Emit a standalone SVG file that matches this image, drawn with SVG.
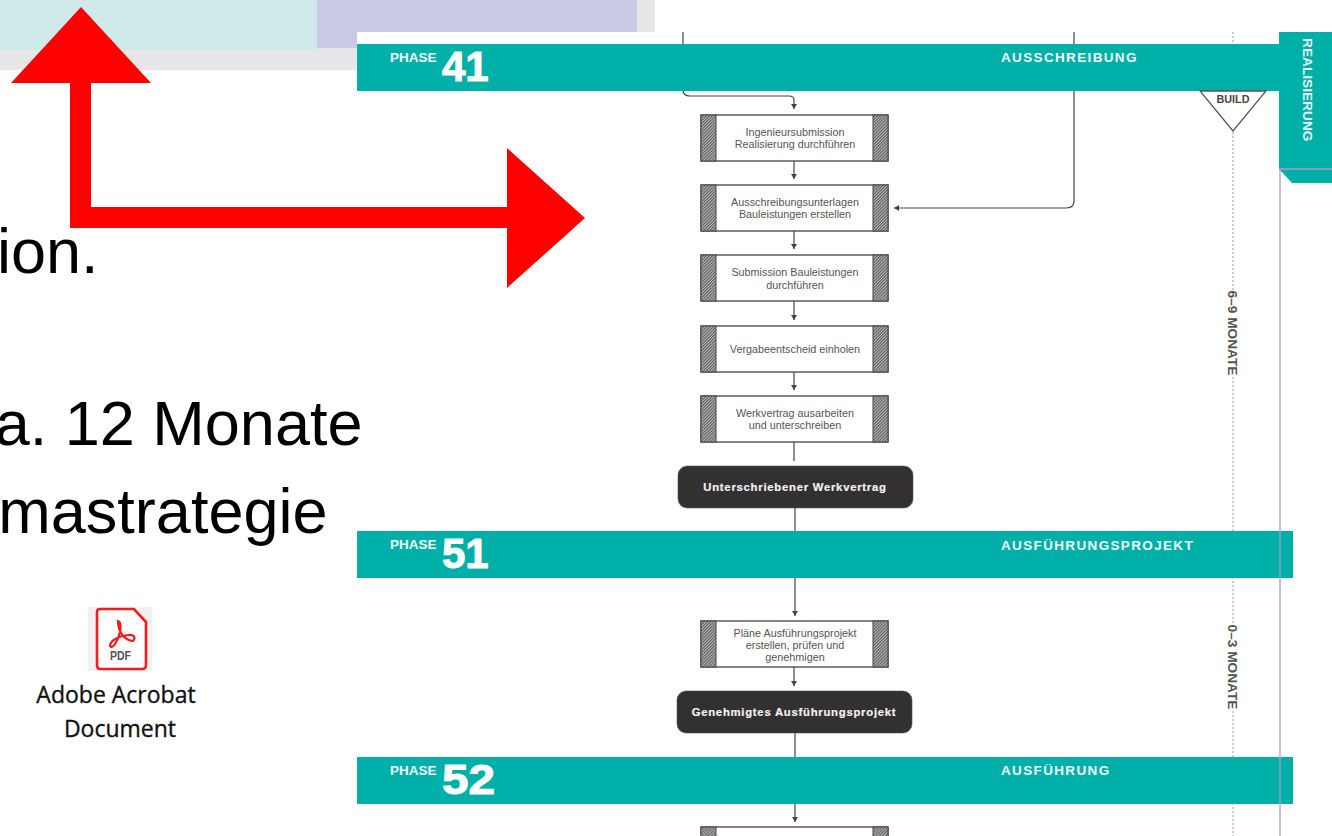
<svg xmlns="http://www.w3.org/2000/svg" width="1332" height="836" viewBox="0 0 1332 836">
<style>
.band{fill:#00b0a8}
.ph{font:700 13.5px "Liberation Sans",Arial,sans-serif;fill:#f2fbfa}
.num{font:700 42px "Liberation Sans",Arial,sans-serif;fill:#fff;stroke:#fff;stroke-width:1}
.title{font:700 13.5px "Liberation Sans",Arial,sans-serif;fill:#f2fbfa;letter-spacing:1.35px}
.big{font:63px "Liberation Sans",Arial,sans-serif;fill:#000}
.box{fill:#fff;stroke:#444;stroke-width:1.3}
.hat{fill:url(#h);stroke:#444;stroke-width:1}
.t{font:10.8px "Liberation Sans",Arial,sans-serif;fill:#555;text-anchor:middle}
.dark{fill:#333031;stroke:#555;stroke-width:.6}
.dt{font:700 11.3px "Liberation Sans",Arial,sans-serif;fill:#f2f2f2;stroke:#f2f2f2;stroke-width:.2;text-anchor:middle;letter-spacing:.75px}
.c{fill:none;stroke:#444;stroke-width:1.2}
.dot{fill:none;stroke:#999;stroke-width:1;stroke-dasharray:2 2}
.side{font:700 13.7px "Liberation Sans",Arial,sans-serif;fill:#555;text-anchor:middle}
.acro{font:23px "Open Sans","Liberation Sans",sans-serif;fill:#111;stroke:#111;stroke-width:.35;text-anchor:middle}
</style>
<defs>
<pattern id="h" width="2.2" height="2.2" patternUnits="userSpaceOnUse" patternTransform="rotate(45)"><rect width="2.2" height="2.2" fill="#bbb"/><rect width="1.1" height="2.2" fill="#5a5a5a"/></pattern>
<marker id="a" markerWidth="6" markerHeight="6" refX="5" refY="3" orient="auto" markerUnits="userSpaceOnUse"><path d="M0 0L5 3L0 6Z" fill="#444"/></marker>
</defs>
<rect width="1332" height="836" fill="#fff"/>
<g id="slide-bg">
<rect x="0" y="0" width="655" height="70" fill="#e7e7ea"/>
<rect x="0" y="0" width="317" height="50" fill="#d0eae9"/>
<rect x="317" y="0" width="320" height="48" fill="#c9cbe6"/>
<rect x="357" y="32" width="975" height="804" fill="#fff"/>
</g>
<g id="slide-text">
<text class="big" x="98.500" y="273" text-anchor="end">ion.</text>
<text class="big" x="362.500" y="445" text-anchor="end">a. 12 Monate</text>
<text class="big" x="327.500" y="533" text-anchor="end">mastrategie</text>
</g>
<g id="pdf-icon">
<rect x="88" y="607" width="64" height="64" fill="#f1f1f1"/>
<path d="M100 609H134L146 622V665Q146 669 142 669H100Q97 669 97 665V612Q97 609 100 609Z" fill="#fff" stroke="#f21c1c" stroke-width="2.6"/>
<path d="M118 621C118 632 124 640 133 641C136 638 134 634 128 635C118 636 110 641 110 646C113 650 118 640 120 632C121 627 121 622 118 621Z" fill="none" stroke="#f21c1c" stroke-width="2.2"/>
<text x="120.500" y="660" textLength="21" lengthAdjust="spacingAndGlyphs" text-anchor="middle" style="font:700 12px 'Liberation Sans',sans-serif;fill:#555">PDF</text>
<text class="acro" x="116" y="703">Adobe Acrobat</text>
<text class="acro" x="120" y="737">Document</text>
</g>
<g id="connectors">
<path class="c" d="M683 32V90Q683 96 690 96H789Q794 96 794 100V109" marker-end="url(#a)"/>
<path class="c" d="M794 161V179" marker-end="url(#a)"/>
<path class="c" d="M794 231V249" marker-end="url(#a)"/>
<path class="c" d="M794 301V320" marker-end="url(#a)"/>
<path class="c" d="M794 372V390" marker-end="url(#a)"/>
<path class="c" d="M794 442V461"/>
<path class="c" d="M795 508V531"/>
<path class="c" d="M795 578V616" marker-end="url(#a)"/>
<path class="c" d="M794 667V686" marker-end="url(#a)"/>
<path class="c" d="M795 733V757"/>
<path class="c" d="M795 804V822" marker-end="url(#a)"/>
<path class="c" d="M1074 32V201Q1074 208 1066 208H894" marker-end="url(#a)"/>
<path class="dot" d="M1233 32V290"/>
<path class="dot" d="M1233 377V623"/>
<path class="dot" d="M1233 711V836"/>
</g>
<g id="phase-41"><rect class="band" x="357" y="44" width="922" height="47"/><text class="ph" x="390" y="62">PHASE</text><text class="num" x="442" y="81">41</text><text class="title" x="1001" y="62">AUSSCHREIBUNG</text></g>
<g id="phase-51"><rect class="band" x="357" y="531" width="936" height="47"/><text class="ph" x="390" y="549">PHASE</text><text class="num" x="442" y="568">51</text><text class="title" x="1001" y="550">AUSFÜHRUNGSPROJEKT</text></g>
<g id="phase-52"><rect class="band" x="357" y="757" width="936" height="47"/><text class="ph" x="390" y="775">PHASE</text><text class="num" x="442" y="794" textLength="53" lengthAdjust="spacingAndGlyphs">52</text><text class="title" x="1001" y="775">AUSFÜHRUNG</text></g>
<g id="realisierung">
<path class="band" d="M1279 32H1332V183H1292L1279 169Z"/>
<path d="M1280 836V169H1332" fill="none" stroke="#b09ac8" stroke-width="1.3"/>
<text transform="translate(1302.500 38) rotate(90)" style="font:700 13.7px 'Liberation Sans',sans-serif;fill:#e6f7f6">REALISIERUNG</text>
</g>
<g id="build"><path d="M1200 91H1266L1233 131Z" fill="#fff" stroke="#555" stroke-width="1.3"/><text x="1233" y="103" text-anchor="middle" style="font:700 10.8px 'Liberation Sans',sans-serif;fill:#444">BUILD</text></g>
<g id="dur-1"><text class="side" transform="translate(1228 333) rotate(90)">6–9 MONATE</text></g>
<g id="dur-2"><text class="side" transform="translate(1228 667) rotate(90)">0–3 MONATE</text></g>
<g id="n1"><rect class="box" x="701" y="115" width="187" height="46"/><rect class="hat" x="701" y="115" width="15" height="46"/><rect class="hat" x="873" y="115" width="15" height="46"/><text class="t" x="795" y="135.500">Ingenieursubmission</text><text class="t" x="795" y="147.500">Realisierung durchführen</text></g>
<g id="n2"><rect class="box" x="701" y="185" width="187" height="46"/><rect class="hat" x="701" y="185" width="15" height="46"/><rect class="hat" x="873" y="185" width="15" height="46"/><text class="t" x="795" y="205.500">Ausschreibungsunterlagen</text><text class="t" x="795" y="217.500">Bauleistungen erstellen</text></g>
<g id="n3"><rect class="box" x="701" y="255" width="187" height="46"/><rect class="hat" x="701" y="255" width="15" height="46"/><rect class="hat" x="873" y="255" width="15" height="46"/><text class="t" x="795" y="275.500">Submission Bauleistungen</text><text class="t" x="795" y="288.500">durchführen</text></g>
<g id="n4"><rect class="box" x="701" y="326" width="187" height="46"/><rect class="hat" x="701" y="326" width="15" height="46"/><rect class="hat" x="873" y="326" width="15" height="46"/><text class="t" x="795" y="352.500">Vergabeentscheid einholen</text></g>
<g id="n5"><rect class="box" x="701" y="396" width="187" height="46"/><rect class="hat" x="701" y="396" width="15" height="46"/><rect class="hat" x="873" y="396" width="15" height="46"/><text class="t" x="795" y="416.500">Werkvertrag ausarbeiten</text><text class="t" x="795" y="428.500">und unterschreiben</text></g>
<g id="n6"><rect class="dark" x="678" y="466" width="235" height="42" rx="9"/><text class="dt" x="795" y="491">Unterschriebener Werkvertrag</text></g>
<g id="n7"><rect class="box" x="701" y="621" width="187" height="46"/><rect class="hat" x="701" y="621" width="15" height="46"/><rect class="hat" x="873" y="621" width="15" height="46"/><text class="t" x="795" y="636.500">Pläne Ausführungsprojekt</text><text class="t" x="795" y="648.500">erstellen, prüfen und</text><text class="t" x="795" y="660.500">genehmigen</text></g>
<g id="n8"><rect class="dark" x="677" y="691" width="235" height="42" rx="9"/><text class="dt" x="794" y="716">Genehmigtes Ausführungsprojekt</text></g>
<g id="n9"><rect class="box" x="701" y="827" width="187" height="46"/><rect class="hat" x="701" y="827" width="15" height="46"/><rect class="hat" x="873" y="827" width="15" height="46"/></g>
<g id="red-arrows">
<path d="M81 7L151 83H91V207H507V148L585 218L507 288V228H70V83H11Z" fill="#f00"/>
</g>
</svg>
